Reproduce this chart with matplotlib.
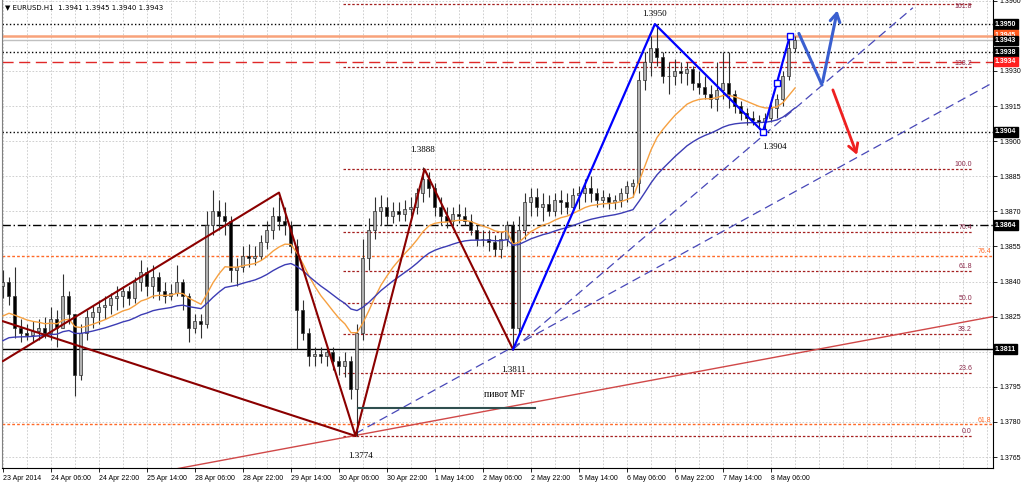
import matplotlib.pyplot as plt
import matplotlib.transforms as mtransforms
import numpy as np

# EURUSD H1 chart, drawn as 2-hour candles. x = hours since 23 Apr 14:00
first_open = 1.3838
highs = [1.3845, 1.3842, 1.3846, 1.3824, 1.3822, 1.3823, 1.3824, 1.3825, 1.3829, 1.3828,
         1.3843, 1.3836, 1.3826, 1.3822, 1.3828, 1.3830, 1.3832, 1.3834, 1.3835, 1.3838,
         1.3838, 1.3838, 1.3842, 1.3849, 1.3846, 1.3847, 1.3844, 1.3840, 1.3839, 1.3847,
         1.3841, 1.3835, 1.3826, 1.3826, 1.3870, 1.3879, 1.3875, 1.3874, 1.3868, 1.3850,
         1.3855, 1.3856, 1.3855, 1.3860, 1.3866, 1.3872, 1.3876, 1.3872, 1.3866, 1.3858,
         1.3832, 1.3820, 1.3812, 1.3812, 1.3812, 1.3812, 1.3808, 1.3810, 1.3808, 1.3822,
         1.3858, 1.3867, 1.3876, 1.3877, 1.3876, 1.3874, 1.3874, 1.3875, 1.3876, 1.3880,
         1.3889, 1.3887, 1.3882, 1.3876, 1.3872, 1.3872, 1.3873, 1.3872, 1.3869, 1.3864,
         1.3862, 1.3862, 1.3860, 1.3861, 1.3866, 1.3866, 1.3868, 1.3878, 1.3880, 1.3880,
         1.3878, 1.3877, 1.3878, 1.3879, 1.3878, 1.3880, 1.3881, 1.3884, 1.3885, 1.3880,
         1.3879, 1.3878, 1.3877, 1.3880, 1.3883, 1.3884, 1.3930, 1.3938, 1.3945, 1.3950,
         1.3938, 1.3934, 1.3935, 1.3934, 1.3934, 1.3932, 1.3930, 1.3928, 1.3924, 1.3934,
         1.3938, 1.3938, 1.3922, 1.3917, 1.3914, 1.3913, 1.3911, 1.3912, 1.3916, 1.3920,
         1.3930, 1.3945, 1.3945]
lows = [1.3833, 1.3830, 1.3816, 1.3814, 1.3815, 1.3814, 1.3815, 1.3816, 1.3815, 1.3812,
        1.3820, 1.3822, 1.3791, 1.3798, 1.3815, 1.3820, 1.3822, 1.3824, 1.3826, 1.3828,
        1.3829, 1.3830, 1.3831, 1.3836, 1.3834, 1.3833, 1.3832, 1.3831, 1.3832, 1.3834,
        1.3828, 1.3814, 1.3818, 1.3816, 1.3820, 1.3860, 1.3862, 1.3860, 1.3840, 1.3838,
        1.3844, 1.3846, 1.3847, 1.3849, 1.3854, 1.3858, 1.3862, 1.3860, 1.3852, 1.3811,
        1.3815, 1.3804, 1.3804, 1.3805, 1.3804, 1.3802, 1.3800, 1.3799, 1.3790, 1.3774,
        1.3815, 1.3845, 1.3858, 1.3864, 1.3864, 1.3865, 1.3866, 1.3866, 1.3868, 1.3869,
        1.3874, 1.3876, 1.3868, 1.3864, 1.3863, 1.3864, 1.3865, 1.3864, 1.3860, 1.3855,
        1.3855, 1.3853, 1.3851, 1.3850, 1.3855, 1.3811, 1.3818, 1.3858, 1.3868, 1.3868,
        1.3866, 1.3868, 1.3868, 1.3869, 1.3869, 1.3870, 1.3871, 1.3874, 1.3874, 1.3872,
        1.3872, 1.3871, 1.3871, 1.3872, 1.3874, 1.3876, 1.3878, 1.3922, 1.3928, 1.3932,
        1.3925, 1.3920, 1.3924, 1.3925, 1.3924, 1.3922, 1.3920, 1.3918, 1.3914, 1.3913,
        1.3918, 1.3914, 1.3912, 1.3909, 1.3907, 1.3907, 1.3905, 1.3904, 1.3908, 1.3910,
        1.3915, 1.3926, 1.3938]
closes = [1.3840, 1.3834, 1.3820, 1.3818, 1.3817, 1.3819, 1.3820, 1.3818, 1.3824, 1.3820,
          1.3834, 1.3826, 1.3800, 1.3818, 1.3825, 1.3827, 1.3829, 1.3830, 1.3833, 1.3834,
          1.3836, 1.3833, 1.3840, 1.3844, 1.3838, 1.3842, 1.3836, 1.3834, 1.3835, 1.3840,
          1.3834, 1.3820, 1.3823, 1.3822, 1.3864, 1.3870, 1.3868, 1.3866, 1.3845, 1.3846,
          1.3851, 1.3850, 1.3851, 1.3857, 1.3862, 1.3868, 1.3866, 1.3864, 1.3855, 1.3828,
          1.3818, 1.3808, 1.3809, 1.3808, 1.3810, 1.3806, 1.3804, 1.3806, 1.3794, 1.3818,
          1.3850, 1.3862, 1.3870, 1.3872, 1.3868, 1.3870, 1.3869, 1.3871, 1.3872, 1.3878,
          1.3884, 1.3880, 1.3872, 1.3868, 1.3866, 1.3869, 1.3868, 1.3866, 1.3862, 1.3858,
          1.3858, 1.3857, 1.3854, 1.3858, 1.3864, 1.3820, 1.3862, 1.3874, 1.3876, 1.3872,
          1.3873, 1.3870, 1.3875, 1.3874, 1.3872, 1.3877, 1.3878, 1.3880, 1.3878, 1.3875,
          1.3876, 1.3874, 1.3875, 1.3878, 1.3881, 1.3882, 1.3926, 1.3934, 1.3940, 1.3936,
          1.3928, 1.3928, 1.3930, 1.3929, 1.3931, 1.3925, 1.3923, 1.3920, 1.3918, 1.3922,
          1.3925, 1.3920, 1.3915, 1.3912, 1.3910, 1.3909, 1.3908, 1.3910, 1.3914, 1.3918,
          1.3928, 1.3940, 1.3943]

# moving averages: starting values
fast_seed, fast_span = 1.3823, 14
slow_seed, slow_span = 1.3813, 30

tick_hours = list(range(0, 257, 16))
tick_labels = ["23 Apr 2014", "24 Apr 06:00", "24 Apr 22:00", "25 Apr 14:00", "28 Apr 06:00",
               "28 Apr 22:00", "29 Apr 14:00", "30 Apr 06:00", "30 Apr 22:00", "1 May 14:00",
               "2 May 06:00", "2 May 22:00", "5 May 14:00", "6 May 06:00", "6 May 22:00",
               "7 May 14:00", "8 May 06:00"]

# drawn objects (hour, price)
red_zz_h = [0, 92, 117.5, 140.5, 170]
red_zz_p = [1.3806, 1.3878, 1.3774, 1.3888, 1.3811]
red_line_h = [0, 117.5]
red_line_p = [1.3823, 1.3774]
blue_zz_h = [170, 217.3, 253.3, 258, 262.3]
blue_zz_p = [1.3811, 1.3950, 1.3904, 1.3925, 1.3945]
fc_h = [265.3, 273, 278.3]
fc_p = [1.3946, 1.3924, 1.3957]
red_arrow_h = [276.3, 285]
red_arrow_p = [1.3923, 1.3893]
trend_h = [58, 330]
trend_p = [1.3760, 1.3825]
dash1_h = [117.5, 330]
dash1_p = [1.3775, 1.3925]
dash2_h = [170, 303.3]
dash2_p = [1.3811, 1.3957]
pivot_h = [118.3, 177.3]
pivot_p = 1.3786

fib_levels = [0.0, 23.6, 38.2, 50.0, 61.8, 76.4, 100.0, 138.2, 161.8]
fib_low, fib_high = 1.3774, 1.3888
orange_levels = {"76.4": 1.3851, "61.8": 1.3779}

# horizontal lines: price, color, style, width
hlines = [(1.3950, "black", ":", 1.0), (1.3945, "#f8a27a", "-", 1.8), (1.3943, "#c0c0c0", "-", 1.0),
          (1.3938, "black", ":", 1.0), (1.3934, "#e02828", (0, (8, 4)), 1.0),
          (1.3904, "black", ":", 1.0), (1.3864, "black", (0, (6, 2, 1, 2)), 1.0),
          (1.3811, "black", "-", 1.0)]
boxes = [("1.3950", 1.3950, "black"), ("1.3945", 1.39452, "#ff5a1e"), ("1.3943", 1.3943, "black"),
         ("1.3938", 1.3938, "black"), ("1.3934", 1.3934, "#ff2020"), ("1.3904", 1.3904, "black"),
         ("1.3864", 1.3864, "black"), ("1.3811", 1.3811, "black")]


def ema(values, span, seed):
    a = 2.0 / (span + 1)
    out = []
    v = seed
    for c in values:
        v = v + a * (c - v)
        out.append(v)
    return out


hours = np.arange(len(closes)) * 2
opens = [first_open] + closes[:-1]

fig = plt.figure(figsize=(10.24, 4.82), dpi=100)
ax = fig.add_axes([2 / 1024, 1 - 468 / 482, 991 / 1024, 468 / 482])
ax.set_xlim(-0.333, 330)
ax.set_ylim(1.37603, 1.39603)

# grid / ticks
yt = [round(1.3765 + 0.0015 * k, 4) for k in range(14)]
ax.set_yticks(yt)
ax.set_yticklabels(["" if v in (1.3945, 1.381) else "%.4f" % v for v in yt])
ax.set_xticks(tick_hours)
ax.set_xticklabels(tick_labels, ha="left")
ax.set_xticks(range(0, 331, 8), minor=True)
ax.yaxis.tick_right()
ax.tick_params(axis="both", labelsize=5, length=3, width=0.6, pad=2, colors="black")
ax.tick_params(axis="x", which="minor", length=0)
for lab in ax.get_xticklabels() + ax.get_yticklabels():
    lab.set_family("Liberation Sans")
ax.grid(which="both", color="#c8c8c8", linestyle=(0, (2, 2)), linewidth=0.6)
ax.set_axisbelow(True)
ax.spines["top"].set_visible(False)
for s in ("left", "right", "bottom"):
    ax.spines[s].set_linewidth(0.8)
ax.spines["left"].set_color("#808080")

# horizontal levels
for p, c, ls, lw in hlines:
    ax.axhline(p, color=c, linestyle=ls, linewidth=lw, zorder=1)

# orange fib
for lab, p in orange_levels.items():
    ax.axhline(p, color="#ff6a28", linestyle=(0, (2, 1.5)), linewidth=1.0, zorder=1)
    ax.text(329.5, p + 0.00003, lab, color="#ff6a28", fontsize=5, ha="right", va="bottom",
            family="Liberation Sans")

# dark red fib
for lv in fib_levels:
    p = fib_low + (fib_high - fib_low) * lv / 100
    ax.plot([113.3, 323], [p, p], color="#a52020", linestyle=(0, (2, 1.5)), linewidth=0.9, zorder=1)
    ax.text(323, min(p + 0.00003, 1.3956), "%.1f" % lv, color="#8b2a4a", fontsize=5, ha="right",
            va="bottom", family="Liberation Sans")
ax.plot([117.5, 140.5], [fib_low, fib_high], color="#c0c0c0", linestyle=":", linewidth=0.8, zorder=1)

# candles
up = [c >= o for o, c in zip(opens, closes)]
ax.vlines(hours, lows, highs, color="#303030", linewidth=0.8, zorder=3)
ax.bar(hours, np.array(closes) - np.array(opens), bottom=opens, width=1.0,
       color=["#b0b0b0" if u else "black" for u in up], edgecolor="#303030", linewidth=0.5, zorder=3)

# moving averages
ax.plot(hours, ema(closes, fast_span, fast_seed), color="#f6a040", linewidth=1.0, zorder=4)
ax.plot(hours, ema(closes, slow_span, slow_seed), color="#3c3cb4", linewidth=1.0, zorder=4)

# trend lines
ax.plot(trend_h, trend_p, color="#d04848", linewidth=1.0, zorder=2)
ax.plot(dash1_h, dash1_p, color="#4848b8", linestyle=(0, (7, 4)), linewidth=0.9, zorder=2)
ax.plot(dash2_h, dash2_p, color="#4848b8", linestyle=(0, (7, 4)), linewidth=0.9, zorder=2)
ax.plot(red_zz_h, red_zz_p, color="#8b0000", linewidth=1.5, zorder=5)
ax.plot(red_line_h, red_line_p, color="#8b0000", linewidth=1.5, zorder=5)
ax.plot(blue_zz_h, blue_zz_p, color="#0000ff", linewidth=1.6, zorder=5)
ax.plot(blue_zz_h[2:], blue_zz_p[2:], linestyle="none", marker="s", markersize=4,
        markerfacecolor="white", markeredgecolor="#0000ff", markeredgewidth=1.0, zorder=6)
ax.plot([pivot_h[0], pivot_h[1]], [pivot_p, pivot_p], color="#2f4f4f", linewidth=1.5, zorder=5)

# forecast arrows
ax.plot(fc_h[:2], fc_p[:2], color="#3a5fd0", linewidth=2.2, zorder=6, solid_capstyle="round")
ax.annotate("", xy=(fc_h[2], fc_p[2]), xytext=(fc_h[1], fc_p[1]),
            arrowprops=dict(arrowstyle="->,head_length=0.6,head_width=0.35", color="#3a5fd0", lw=2.2),
            zorder=6)
ax.annotate("", xy=(red_arrow_h[1], red_arrow_p[1]), xytext=(red_arrow_h[0], red_arrow_p[0]),
            arrowprops=dict(arrowstyle="->,head_length=0.6,head_width=0.35", color="#ee2020", lw=2.0),
            zorder=6)

# labels on chart
serif = dict(family="Liberation Serif", fontsize=6.5, color="black", ha="center", va="center", zorder=7)
ax.text(217.3, 1.39543, "1.3950", **serif)
ax.text(140, 1.38962, "1.3888", **serif)
ax.text(170, 1.38022, "1.3811", **serif)
ax.text(119.3, 1.37654, "1.3774", **serif)
ax.text(257.3, 1.38975, "1.3904", **serif)
ax.text(167.3, 1.37915, "пивот MF", family="Liberation Serif", fontsize=7, ha="center", va="center",
        zorder=7)

# price boxes on the right scale
trans = mtransforms.blended_transform_factory(ax.transAxes, ax.transData)
for i, (s, p, c) in enumerate(boxes):
    ax.text(1.002, p, s, transform=trans, fontsize=5, color="white", fontweight="bold",
            family="Liberation Sans", ha="left", va="center", clip_on=False, zorder=10 + i,
            bbox=dict(boxstyle="square,pad=0.2", facecolor=c, edgecolor=c))

fig.text(5 / 1024, 1 - 7 / 482, "▼ EURUSD.H1  1.3941 1.3945 1.3940 1.3943", fontsize=5,
         family="DejaVu Sans", va="center", ha="left")

fig.savefig("out.png", dpi=100, facecolor="white")
